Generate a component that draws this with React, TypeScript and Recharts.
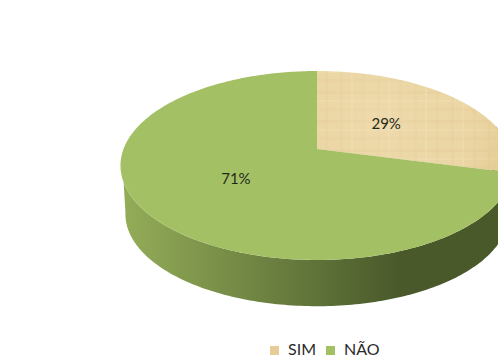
import React from "react";
import { PieChart, Pie, Legend, Cell } from "recharts";

const categories = ["SIM", "NÃO"];
const shares = [29, 71];
const fills = ["#e6cc96", "#a4c064"];

const rows = categories.map((name, i) => ({ name, value: shares[i], fill: fills[i] }));

// Tilted-disc projection: a unit circle seen in perspective becomes an ellipse whose
// apex sits above the ellipse's centre.
const APEX_X = 317;
const APEX_Y = 149;
const HALF_W = 193.5;
const HALF_H = 91.6;
const TILT = 0.1746;
const BASE_APEX_Y = 198;
const BASE_SCALE = 0.975;

const rad = (d: number) => (d * Math.PI) / 180;

function project(clockFromTop: number, r = 1): [number, number] {
  const u = r * Math.sin(rad(clockFromTop));
  const v = r * Math.cos(rad(clockFromTop));
  const w = 1 + TILT * v;
  return [APEX_X + (HALF_W * u) / w, APEX_Y - (HALF_H * v) / w];
}

function projectBase(clockFromTop: number): [number, number] {
  const [x, y] = project(clockFromTop);
  return [APEX_X + BASE_SCALE * (x - APEX_X), BASE_APEX_Y + BASE_SCALE * (y - APEX_Y)];
}

function sweep(from: number, to: number, at: (a: number) => [number, number]) {
  const pts: [number, number][] = [];
  const steps = Math.max(2, Math.ceil(Math.abs(to - from)));
  for (let i = 0; i <= steps; i++) pts.push(at(from + ((to - from) * i) / steps));
  return pts;
}

const toPath = (pts: [number, number][]) =>
  pts.map((p, i) => `${i ? "L" : "M"}${p[0].toFixed(2)} ${p[1].toFixed(2)}`).join(" ") + " Z";

// The rim shows along the front of the disc; its left silhouette is the straight
// tangent between the upper edge and the widest point of the lower edge.
const RIM_FROM = 75;
const RIM_TOP_END = 250;
const RIM_BASE_END = 261;

function DiscSlice(props: any) {
  const a0 = 90 - props.startAngle;
  const a1 = 90 - props.endAngle;
  const lo = Math.max(a0, RIM_FROM);
  const topEnd = Math.min(a1, RIM_TOP_END);
  const baseEnd = Math.min(a1, RIM_BASE_END);
  const rim =
    topEnd > lo
      ? toPath([...sweep(lo, topEnd, (a) => project(a)), ...sweep(baseEnd, lo, projectBase)])
      : null;
  const top = toPath([[APEX_X, APEX_Y], ...sweep(a0, a1, (a) => project(a))]);
  const isTextured = props.name === categories[0];
  return (
    <g>
      {rim && <path d={rim} fill="url(#rimShade)" />}
      <path d={top} fill={isTextured ? "url(#weave)" : props.fill} />
      {isTextured && <path d={top} fill="url(#parchmentEdge)" />}
    </g>
  );
}

function sliceLabel(props: any) {
  const mid = 90 - props.midAngle;
  const [x, y] = project(mid, 0.49);
  return (
    <text
      x={x - 2}
      y={y}
      textAnchor="middle"
      dominantBaseline="central"
      fontFamily="Lato, sans-serif"
      fontSize={15}
      fill="#1f2a1a"
    >
      {Math.round(props.percent * 100)}%
    </text>
  );
}

const legendText = (value: string) => (
  <span style={{ color: "#2a2a2a", marginLeft: 5 }}>{value}</span>
);

export default function App() {
  return (
    <div style={{ position: "fixed", left: 0, top: 0, width: 498, height: 361, overflow: "hidden", background: "#fff" }}>
      <PieChart width={498} height={361} margin={{ top: 0, right: 0, bottom: 0, left: 0 }}>
        <defs>
          <linearGradient id="rimShade" gradientUnits="userSpaceOnUse" x1="122" y1="0" x2="400" y2="0">
            <stop offset="0" stopColor="#94ad58" />
            <stop offset="0.5" stopColor="#6e8342" />
            <stop offset="1" stopColor="#49592a" />
          </linearGradient>
          <radialGradient id="parchmentEdge" gradientUnits="userSpaceOnUse" cx="380" cy="120" r="130">
            <stop offset="0" stopColor="#f3e3bb" stopOpacity="0.35" />
            <stop offset="0.55" stopColor="#eedaab" stopOpacity="0" />
            <stop offset="1" stopColor="#dcbc7c" stopOpacity="0.4" />
          </radialGradient>
          <pattern id="weave" patternUnits="userSpaceOnUse" width="37" height="29">
            <rect width="37" height="29" fill="#ebd6a5" />
            <rect x="0" y="4" width="37" height="3" fill="#e7cf99" opacity="0.45" />
            <rect x="0" y="13" width="37" height="2" fill="#f0dfb6" opacity="0.5" />
            <rect x="0" y="21" width="37" height="3" fill="#e7cf99" opacity="0.35" />
            <rect x="7" y="0" width="3" height="29" fill="#e6cd98" opacity="0.3" />
            <rect x="18" y="0" width="2" height="29" fill="#f1e0b8" opacity="0.4" />
            <rect x="29" y="0" width="3" height="29" fill="#e6cd98" opacity="0.25" />
          </pattern>
        </defs>
        <Pie
          data={rows}
          dataKey="value"
          nameKey="name"
          cx={APEX_X}
          cy={APEX_Y}
          outerRadius={90}
          startAngle={90}
          endAngle={-270}
          stroke="none"
          isAnimationActive={false}
          shape={DiscSlice}
          label={sliceLabel}
          labelLine={false}
        >
          {rows.map((r) => (
            <Cell key={r.name} fill={r.fill} />
          ))}
        </Pie>
        <Legend
          layout="horizontal"
          align="left"
          verticalAlign="top"
          iconType="square"
          iconSize={9}
          itemSorter={null}
          formatter={legendText}
          wrapperStyle={{ left: 270, top: 339, width: 130, fontFamily: "Lato, sans-serif", fontSize: 16 }}
        />
      </PieChart>
    </div>
  );
}
